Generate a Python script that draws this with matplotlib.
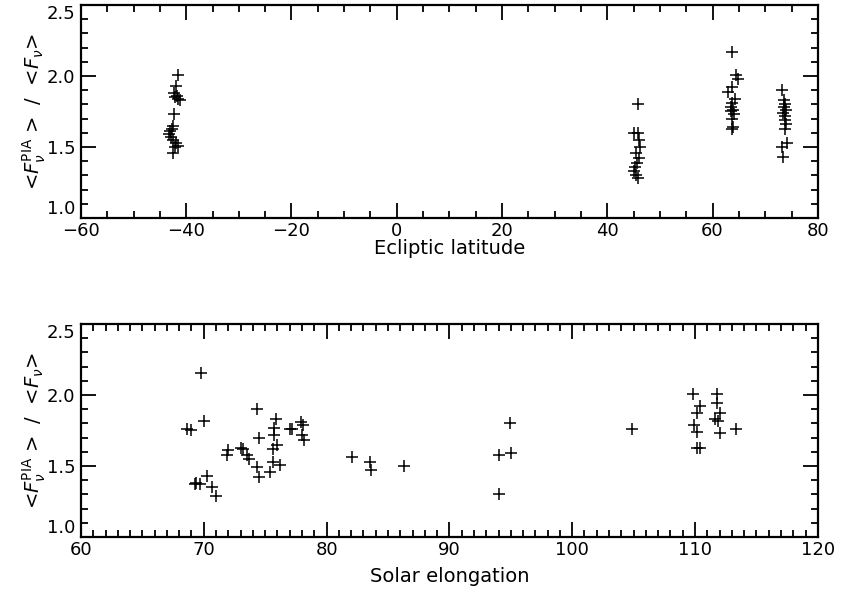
import matplotlib
matplotlib.use("Agg")
import matplotlib.pyplot as plt
from matplotlib.ticker import MultipleLocator, FormatStrFormatter

plt.rcParams['font.family'] = ['DejaVu Sans']
plt.rcParams['mathtext.fontset'] = 'dejavusans'

# ---- data ----
# top panel: ecliptic latitude vs flux ratio
lat = [-41.5, -42.0, -42.3, -41.8, -41.5, -41.2, -42.2, -42.4, -42.6, -42.7,
       -43.0, -43.2, -42.8, -42.5, -42.0, -41.6, -42.2, -42.6,
       45.8, 45.0, 45.8, 46.0, 46.2, 45.4, 46.0, 45.6, 45.2, 45.0, 45.4, 45.8,
       63.6, 64.5, 64.8, 63.7, 63.0, 64.3, 63.7, 63.9, 63.5, 64.0, 63.5, 63.7,
       63.6, 63.9,
       73.1, 73.6, 73.8, 74.0, 73.4, 73.8, 73.8, 73.8, 74.2, 73.1, 73.4, 73.6, 73.9]
ratio_lat = [2.01, 1.93, 1.88, 1.86, 1.84, 1.83, 1.85, 1.73, 1.65, 1.63,
             1.61, 1.59, 1.57, 1.55, 1.53, 1.51, 1.50, 1.46,
             1.80, 1.60, 1.60, 1.55, 1.50, 1.46, 1.42, 1.39, 1.36, 1.33, 1.30, 1.28,
             2.17, 2.01, 1.98, 1.92, 1.89, 1.84, 1.81, 1.76, 1.75, 1.73, 1.78, 1.70,
             1.63, 1.64,
             1.90, 1.83, 1.80, 1.76, 1.74, 1.72, 1.69, 1.63, 1.53, 1.50, 1.43, 1.78, 1.66]

# bottom panel: solar elongation vs flux ratio
elong = [69.8, 74.3, 70.0, 68.6, 69.0, 75.9, 75.7, 75.7, 74.5, 77.0,
         77.2, 77.9, 78.1, 78.0, 78.2, 76.0, 75.6, 72.0, 71.9, 73.0,
         73.2, 73.5, 73.7, 74.3, 74.5, 75.6, 76.2, 75.4, 70.3, 69.4,
         69.7, 69.3, 70.7, 71.0,
         82.1, 83.5, 83.6, 86.3,
         94.9, 94.0, 95.0, 94.0,
         104.9,
         109.8, 111.8, 110.4, 111.8, 110.2, 112.0, 111.6, 111.9, 109.9, 110.2,
         112.0, 113.3, 110.2, 110.4]
ratio_elong = [2.155, 1.90, 1.82, 1.76, 1.75, 1.83, 1.77, 1.72, 1.70, 1.76,
               1.76, 1.81, 1.79, 1.72, 1.68, 1.65, 1.62, 1.61, 1.58, 1.63,
               1.62, 1.58, 1.55, 1.49, 1.42, 1.53, 1.51, 1.46, 1.43, 1.38,
               1.37, 1.37, 1.35, 1.29,
               1.56, 1.53, 1.47, 1.50,
               1.80, 1.58, 1.59, 1.30,
               1.76,
               2.01, 2.01, 1.92, 1.94, 1.87, 1.87, 1.83, 1.82, 1.79, 1.74,
               1.73, 1.76, 1.63, 1.63]

ylabel = r'<$F_\nu^{\rm PIA}$ >  /  <$F_\nu$>'

fig = plt.figure(figsize=(8.46, 5.94), dpi=100)
ax1 = fig.add_axes([0.0957, 0.633, 0.871, 0.3586])
ax2 = fig.add_axes([0.0957, 0.096, 0.871, 0.3586])


def style_axis(ax, xmin, xmax, xmajor, xminor, xlabel, xlabelpad):
    ax.set_xlim(xmin, xmax)
    ax.set_ylim(1.0, 2.5)
    ax.xaxis.set_major_locator(MultipleLocator(xmajor))
    ax.xaxis.set_minor_locator(MultipleLocator(xminor))
    ax.yaxis.set_major_locator(MultipleLocator(0.5))
    ax.yaxis.set_minor_locator(MultipleLocator(0.1))
    ax.yaxis.set_major_formatter(FormatStrFormatter('%.1f'))
    ax.tick_params(which='both', direction='in', top=True, right=True,
                   width=1.3, labelsize=13, colors='black')
    ax.tick_params(which='major', length=11)
    ax.tick_params(which='minor', length=5)
    ax.tick_params(axis='x', pad=3)
    ax.tick_params(axis='y', pad=4)
    for s in ax.spines.values():
        s.set_linewidth(1.6)
    ax.set_xlabel(xlabel, fontsize=14, labelpad=xlabelpad)
    ax.set_ylabel(ylabel, fontsize=14)
    ax.yaxis.set_label_coords(-0.045, 0.5)


ax1.plot(lat, ratio_lat, linestyle='none', marker='+', color='black',
         markersize=8, markeredgewidth=1.1)
style_axis(ax1, -60, 80, 20, 5, 'Ecliptic latitude', -1)

ax2.plot(elong, ratio_elong, linestyle='none', marker='+', color='black',
         markersize=8, markeredgewidth=1.1)
style_axis(ax2, 60, 120, 10, 1, 'Solar elongation', 6)

# keep the end y labels inside the axis range, IDL style
fig.canvas.draw()
for ax in (ax1, ax2):
    for tick in ax.yaxis.get_major_ticks():
        val = tick.get_loc()
        if abs(val - 1.0) < 1e-6:
            tick.label1.set_va('bottom')
        elif abs(val - 2.5) < 1e-6:
            tick.label1.set_va('top')

fig.savefig('out.png', dpi=100)
